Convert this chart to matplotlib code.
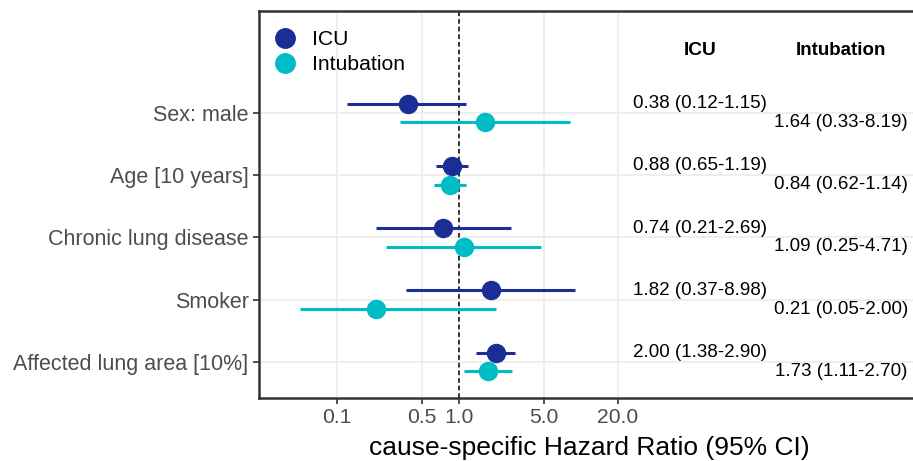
import numpy as np
import matplotlib
matplotlib.use('Agg')
import matplotlib.pyplot as plt
from matplotlib.lines import Line2D

plt.rcParams['font.family'] = ['Liberation Sans', 'DejaVu Sans']

# data
variables = ['Sex: male', 'Age [10 years]', 'Chronic lung disease', 'Smoker',
             'Affected lung area [10%]']
icu_hr = [0.38, 0.88, 0.74, 1.82, 2.00]
icu_lo = [0.12, 0.65, 0.21, 0.37, 1.38]
icu_hi = [1.15, 1.19, 2.69, 8.98, 2.90]
int_hr = [1.64, 0.84, 1.09, 0.21, 1.73]
int_lo = [0.33, 0.62, 0.25, 0.05, 1.11]
int_hi = [8.19, 1.14, 4.71, 2.00, 2.70]
xticks = [0.1, 0.5, 1.0, 5.0, 20.0]
xtick_labels = ['0.1', '0.5', '1.0', '5.0', '20.0']

col_icu = '#1B2E96'
col_int = '#00BCC6'
grey = '#4D4D4D'

fig = plt.figure(figsize=(9.13, 4.61), dpi=100)
ax = fig.add_axes([259/913, 63/461, 661/913, 387/461])

ypos = np.arange(len(variables), 0, -1)  # top row = 5
off = 0.15

ax.axvline(1, color='black', ls=(0, (3, 2)), lw=1.1, zorder=2)

for i, y in enumerate(ypos):
    ax.plot([icu_lo[i], icu_hi[i]], [y + off, y + off], color=col_icu, lw=2.2, zorder=3,
            solid_capstyle='butt')
    ax.plot(icu_hr[i], y + off, 'o', color=col_icu, ms=13, zorder=4)
    ax.plot([int_lo[i], int_hi[i]], [y - off, y - off], color=col_int, lw=2.2, zorder=3,
            solid_capstyle='butt')
    ax.plot(int_hr[i], y - off, 'o', color=col_int, ms=13, zorder=4)
    ax.text(94, y + off, '%.2f (%.2f-%.2f)' % (icu_hr[i], icu_lo[i], icu_hi[i]),
            ha='center', va='center', fontsize=13.5, color='black')
    ax.text(1350, y - off, '%.2f (%.2f-%.2f)' % (int_hr[i], int_lo[i], int_hi[i]),
            ha='center', va='center', fontsize=13.5, color='black')

# column headers
ax.text(94, 6.0, 'ICU', ha='center', va='center', fontsize=13.8, fontweight='bold')
ax.text(1350, 6.0, 'Intubation', ha='center', va='center', fontsize=13.5,
        fontweight='bold')

ax.set_xscale('log')
ax.set_xlim(0.02296, 10 ** 3.779)
ax.set_ylim(0.42, 6.64)
ax.set_xticks(xticks)
ax.set_xticklabels(xtick_labels)
ax.xaxis.set_minor_locator(matplotlib.ticker.NullLocator())
ax.set_yticks(ypos)
ax.set_yticklabels(variables)
ax.tick_params(axis='x', labelsize=15.2)
ax.tick_params(axis='y', labelsize=15.5)
ax.tick_params(axis='both', labelcolor=grey, color='#333333', length=4, width=1.2)
ax.set_xlabel('cause-specific Hazard Ratio (95% CI)', fontsize=19, labelpad=6)

ax.grid(True, color='#EBEBEB', lw=1.2, zorder=0)
ax.set_axisbelow(True)
for s in ax.spines.values():
    s.set_color('#333333')
    s.set_linewidth(1.8)

handles = [Line2D([], [], marker='o', color=col_icu, ls='none', ms=14),
           Line2D([], [], marker='o', color=col_int, ls='none', ms=14)]
ax.legend(handles, ['ICU', 'Intubation'], loc='upper left', frameon=False,
          fontsize=15.2, handletextpad=0.25, labelspacing=0.3,
          bbox_to_anchor=(-0.021, 1.0), borderaxespad=0.5)

fig.savefig('out.png', dpi=100)
